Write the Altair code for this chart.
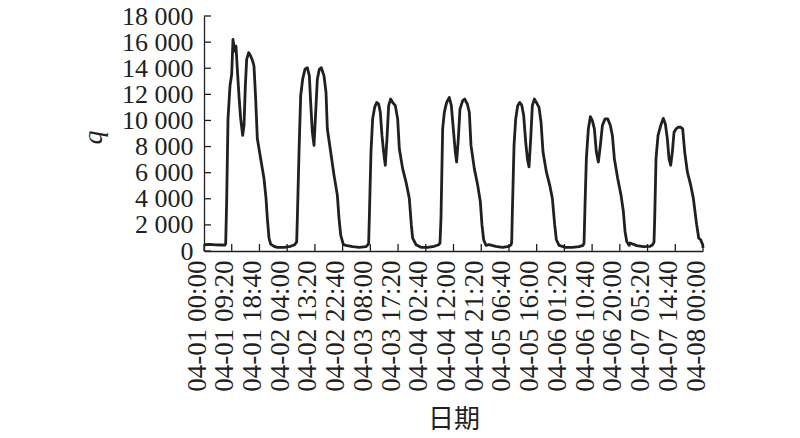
import json
import altair as alt
import pandas as pd

# time in hours since 04-01 00:00, and the flow q
hours = [
    0, 2, 4, 6, 7.0, 7.3,
    # 04-01
    7.63, 8.08, 8.75, 9.32, 9.76, 10.33, 10.77, 11.22, 11.78, 12.35, 13.02, 13.47, 13.92,
    14.37, 15.04, 15.71, 16.39, 16.83, 17.4, 17.96, 19.08, 20.2, 20.88, 21.32, 21.89, 22.45,
    23.57, 24.69, 26.94, 29.18, 30.53, 31.2,
    # 04-02
    31.43, 31.99, 32.55, 33.22, 34.0, 34.79, 35.47, 35.91, 36.48, 37.04, 37.6, 38.16, 38.83,
    39.5, 40.4, 41.08, 41.53, 42.65, 43.77, 44.89, 45.45, 46.02, 46.91,
    47.8, 50.0, 52.3, 54.5, 55.2,
    # 04-03
    55.43, 55.66, 56.22, 56.78, 57.45, 58.13, 58.8, 59.36, 59.92, 60.48, 61.04, 61.6, 62.17,
    62.84, 63.51, 64.41, 65.2, 65.76, 66.88, 68.0, 69.12, 69.8, 70.25, 71.37, 73.05, 75.3,
    77.54, 79.0,
    # 04-04
    79.45, 79.79, 80.35, 80.91, 81.69, 82.59, 83.27, 83.94, 84.61, 85.06, 85.62, 86.18, 87.08,
    87.75, 88.65, 89.33, 89.89, 91.01, 92.13, 93.03, 93.59, 94.15, 94.94,
    95.96, 98.2, 100.45, 102.7, 103.4,
    # 04-05
    103.59, 103.82, 104.38, 104.94, 105.61, 106.29, 106.96, 107.63, 108.31, 108.87, 109.43,
    109.99, 110.55, 111.22, 111.9, 112.79, 113.47, 114.14, 115.26, 116.39, 117.28, 118.07,
    118.63, 119.53, 121.77, 124.02, 126.26, 127.61,
    # 04-06
    127.95, 128.28, 128.73, 129.4, 130.08, 130.75, 131.43, 132.1, 132.77, 133.45, 134.12,
    135.02, 135.92, 136.81, 137.49, 138.16, 139.28, 140.4, 141.19, 141.75, 142.31, 143.1,
    143.43, 145.7, 147.9, 150.2, 151.06,
    # 04-07
    151.51, 151.74, 152.18, 152.86, 153.76, 154.65, 155.33, 156.0, 156.56, 157.12, 157.68,
    158.25, 158.92, 159.7, 160.49, 161.16, 161.84, 162.73, 163.86, 164.75, 165.88, 166.55,
    167.22, 167.9, 168.0,
]
q = [
    480, 500, 470, 460, 450, 550,
    3780, 10120, 12650, 13540, 16200, 15310, 15690, 13920, 11890, 10120, 8850, 9610, 12650,
    14680, 15190, 14930, 14550, 14170, 11640, 8590, 7070, 5550, 4030, 2510, 990, 530,
    360, 280, 280, 360, 480, 700,
    2510, 7580, 11890, 13160, 13920, 14040, 13410, 11380, 9100, 8090, 10620, 13160, 13920,
    14040, 13410, 12140, 9350, 7580, 5810, 4280, 2510, 1240, 480,
    430, 330, 280, 330, 480,
    600, 2510, 7580, 10120, 11000, 11380, 11260, 10620, 8850, 7580, 6570, 8590, 11130,
    11640, 11380, 11130, 10120, 7830, 6310, 5300, 4030, 2000, 990, 480, 280, 280,
    360, 480,
    600, 2510, 9350, 10620, 11380, 11760, 11130, 9350, 7580, 6820, 8590, 10870, 11510,
    11640, 11260, 10620, 8090, 6310, 5050, 3780, 2000, 860, 430,
    480, 360, 280, 360, 480,
    700, 3020, 8090, 10120, 11130, 11380, 11180, 10370, 8340, 7070, 6440,
    8590, 11130, 11640, 11380, 11000, 9860, 7580, 6060, 5050, 4030, 2000,
    860, 430, 280, 280, 330, 430,
    600, 3520, 7070, 9350, 10290, 9990, 9350, 7580, 6820, 8090, 9610,
    10120, 10120, 9610, 8850, 7070, 5550, 4280, 3020, 1500, 740, 430,
    610, 410, 330, 360, 480,
    700, 2510, 7070, 8850, 9610, 10160, 9730, 8590, 7070, 6570, 7580,
    9100, 9350, 9480, 9480, 9350, 7580, 6060, 5050, 4030, 2000, 990,
    860, 480, 230,
]

tick_hours = [0, 28/3, 56/3, 28, 112/3, 140/3, 56, 196/3, 224/3, 84, 280/3, 308/3,
              112, 364/3, 392/3, 140, 448/3, 476/3, 168]
tick_labels = ["04-01 00:00", "04-01 09:20", "04-01 18:40", "04-02 04:00", "04-02 13:20",
               "04-02 22:40", "04-03 08:00", "04-03 17:20", "04-04 02:40", "04-04 12:00",
               "04-04 21:20", "04-05 06:40", "04-05 16:00", "04-06 01:20", "04-06 10:40",
               "04-06 20:00", "04-07 05:20", "04-07 14:40", "04-08 00:00"]
y_ticks = [0, 2000, 4000, 6000, 8000, 10000, 12000, 14000, 16000, 18000]

INK = "#231f20"
SERIF = "Liberation Serif"

df = pd.DataFrame({"hours": hours, "q": q})
xt = pd.DataFrame({"hours": tick_hours})
yt = pd.DataFrame({"q": y_ticks})

xscale = alt.Scale(domain=[0, 168], nice=False, zero=False)
yscale = alt.Scale(domain=[0, 18000], nice=False)

label_expr_x = json.dumps(tick_labels) + "[round(datum.value*3/28)]"

x_axis = alt.Axis(values=tick_hours, labelExpr=label_expr_x, labelAngle=-90,
                  labelPadding=9, labelOffset=-7, labelFlush=False,
                  labelOverlap=False, labelBound=False, labelFontSize=27,
                  title="日期", titleFont="Noto Sans CJK SC", titleFontSize=26,
                  titleFontWeight="normal", titleColor=INK,
                  titleBaseline="middle", titleY=168)
y_axis = alt.Axis(values=y_ticks,
                  labelExpr="replace(format(datum.value, ','), ',', ' ')",
                  labelPadding=11, labelFlush=False, labelOverlap=False,
                  labelBound=False, labelFontSize=26,
                  title="q", titleFont=SERIF, titleFontStyle="italic",
                  titleFontSize=28, titleFontWeight="normal", titleColor=INK,
                  titleAngle=270, titleBaseline="alphabetic", titleAlign="center",
                  titleX=-103, titleY=121)

line = alt.Chart(df).mark_line(color=INK, strokeWidth=2.8, strokeJoin="round").encode(
    x=alt.X("hours:Q", scale=xscale, axis=x_axis),
    y=alt.Y("q:Q", scale=yscale, axis=y_axis),
)

ytick_rules = alt.Chart(yt).mark_rule(color=INK, strokeWidth=1.3).encode(
    y=alt.Y("q:Q", scale=yscale, axis=y_axis),
    x=alt.value(0), x2=alt.value(7),
)
xtick_rules = alt.Chart(xt).mark_rule(color=INK, strokeWidth=1.3).encode(
    x=alt.X("hours:Q", scale=xscale, axis=x_axis),
    y=alt.value(235), y2=alt.value(228),
)

chart = alt.layer(line, ytick_rules, xtick_rules).properties(
    width=499, height=235,
    autosize=alt.AutoSizeParams(type="none"),
    padding={"left": 196, "top": 8, "right": 80, "bottom": 180},
).configure_view(stroke=None).configure_axis(
    grid=False, ticks=False,
    domainColor=INK, domainWidth=1.3,
    labelFont=SERIF, labelColor=INK,
)

chart.save("out.html", embed_options={"renderer": "svg", "actions": False})
